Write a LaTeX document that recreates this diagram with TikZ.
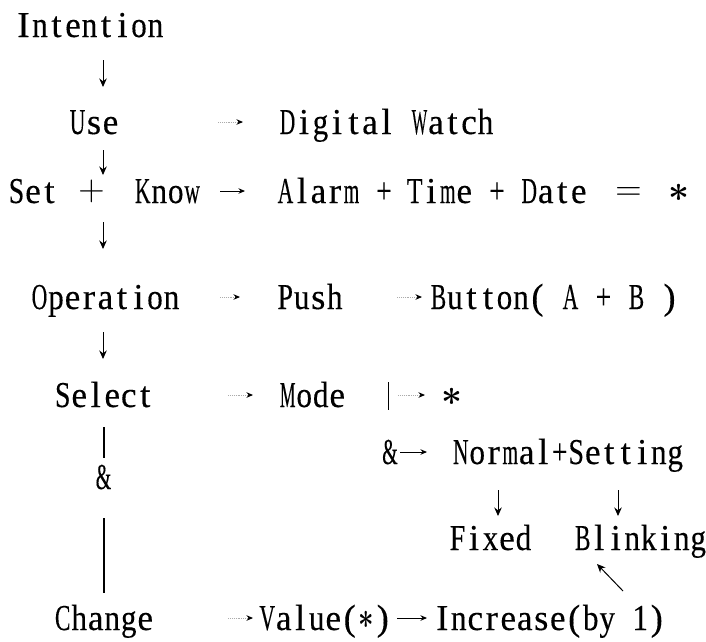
\RequirePackage{fix-cm}
\documentclass[tikz,border=0pt]{standalone}
\usepackage{fontspec}
\usepackage{amsmath}
\usepackage{graphicx}
\setmainfont[FakeBold=0.3]{Liberation Serif}
\usetikzlibrary{arrows.meta}

\makeatletter
\newlength\cellw
\setlength\cellw{16.5pt}
\newsavebox\monobox
\def\monoend{\monoend@x}
\newcommand\mono[1]{\mono@loop#1\monoend}
\def\mono@loop#1{\ifx#1\monoend\else\mono@char{#1}\expandafter\mono@loop\fi}
\def\mono@char#1{\sbox\monobox{#1}%
  \ifdim\wd\monobox>0.94\cellw
    \makebox[\cellw]{\resizebox{0.94\cellw}{\height}{\usebox\monobox}}%
  \else
    \makebox[\cellw]{\usebox\monobox}%
  \fi}
\makeatother

\newcommand\diafont{\fontsize{36.5}{42}\selectfont}
\newcommand\st{\raisebox{2pt}{$\boldsymbol{\ast}$}}

\begin{document}
\begin{tikzpicture}[x=1pt,y=-1pt,
  txt/.style={anchor=base, inner sep=0pt, font=\diafont},
  darr/.style={line width=1pt, -{Stealth[length=8.5pt,width=7.5pt]}},
  rarr/.style={line width=0.9pt, -{Stealth[length=6.5pt,width=5.5pt]}},
  dotrarr/.style={line width=0.9pt, draw=gray!65, densely dotted, -{Stealth[length=6.5pt,width=5.5pt,color=black]}},
  vbar/.style={line width=1.3pt}]
\useasboundingbox (0,0) rectangle (706,641);

% left column
\node[txt] (intention) at (89.5,37) {\mono{Intention}};
\node[txt] (use) at (94,134) {\mono{Use}};
\node[txt] (set) at (33,203) {\mono{Set}};
\node[txt] (plusbig) at (91.5,203) {\raisebox{3pt}{$+$}};
\node[txt] (know) at (167.5,203) {\mono{Know}};
\node[txt] (operation) at (105.5,309) {\mono{Operation}};
\node[txt] (select) at (104,407) {\mono{Select}};
\node[txt] (amp) at (103.5,489) {\mono{\&}};
\node[txt] (change) at (104,630) {\mono{Change}};

\coordinate (d1s) at (103,60);  \coordinate (d1e) at (103,87);
\coordinate (d2s) at (103,150); \coordinate (d2e) at (103,175);
\coordinate (d3s) at (103,222); \coordinate (d3e) at (103,249);
\coordinate (d4s) at (103,332); \coordinate (d4e) at (103,359);
\draw[darr] (d1s) -- (d1e);
\draw[darr] (d2s) -- (d2e);
\draw[darr] (d3s) -- (d3e);
\draw[darr] (d4s) -- (d4e);
\coordinate (v1s) at (104,427); \coordinate (v1e) at (104,458);
\coordinate (v2s) at (104,518); \coordinate (v2e) at (104,593);
\draw[vbar] (v1s) -- (v1e);
\draw[vbar] (v2s) -- (v2e);

% Use row
\coordinate (u1) at (218,122); \coordinate (u2) at (243,122);
\draw[dotrarr] (u1) -- (u2);
\node[txt] (dw) at (386.5,134) {\mono{Digital~Watch}};

% Set row
\coordinate (s1) at (220,191); \coordinate (s2) at (245,191);
\draw[rarr] (s1) -- (s2);
\node[txt] (alarm) at (318.5,203) {\mono{Alarm}};
\node[txt] (p1) at (384,203) {\mono{+}};
\node[txt] (time) at (439.5,203) {\mono{Time}};
\node[txt] (p2) at (497,203) {\mono{+}};
\node[txt] (date) at (554,203) {\mono{Date}};
\node[txt] (eq) at (628.5,203) {\raisebox{3pt}{$=$}};
\node[txt] (star1) at (679,203) {\st};

% Operation row
\coordinate (o1) at (220,297); \coordinate (o2) at (240,297);
\draw[dotrarr] (o1) -- (o2);
\node[txt] (push) at (310,309) {\mono{Push}};
\coordinate (o3) at (397,297); \coordinate (o4) at (422,297);
\draw[dotrarr] (o3) -- (o4);
\node[txt] (button) at (554,309) {\mono{Button(~A~+~B~)}};

% Select row
\coordinate (m1) at (228,395); \coordinate (m2) at (253,395);
\draw[dotrarr] (m1) -- (m2);
\node[txt] (mode) at (312.5,407) {\mono{Mode}};
\coordinate (b1) at (388,382); \coordinate (b2) at (388,410);
\draw[line width=1pt] (b1) -- (b2);
\coordinate (m3) at (398,395); \coordinate (m4) at (425,395);
\draw[dotrarr] (m3) -- (m4);
\node[txt] (star2) at (452,407) {\st};

% Normal row
\node[txt] (amp2) at (390,464) {\mono{\&}};
\coordinate (n1) at (400,452); \coordinate (n2) at (427,452);
\draw[rarr] (n1) -- (n2);
\node[txt] (normal) at (568,464) {\mono{Normal+Setting}};
\coordinate (f1s) at (498,490); \coordinate (f1e) at (498,516);
\coordinate (f2s) at (618,490); \coordinate (f2e) at (618,516);
\draw[darr] (f1s) -- (f1e);
\draw[darr] (f2s) -- (f2e);
\node[txt] (fixed) at (490.5,550) {\mono{Fixed}};
\node[txt] (blinking) at (640.5,550) {\mono{Blinking}};
\coordinate (k1) at (623,591); \coordinate (k2) at (597,564);
\draw[darr] (k1) -- (k2);

% Change row
\coordinate (c1) at (228,618); \coordinate (c2) at (253,618);
\draw[dotrarr] (c1) -- (c2);
\node[txt] (value) at (325,630) {\mono{Value(\st)}};
\coordinate (c3) at (397,618); \coordinate (c4) at (427,618);
\draw[rarr] (c3) -- (c4);
\node[txt] (increase) at (549.5,630) {\mono{Increase(by~1)}};
\end{tikzpicture}
\end{document}
